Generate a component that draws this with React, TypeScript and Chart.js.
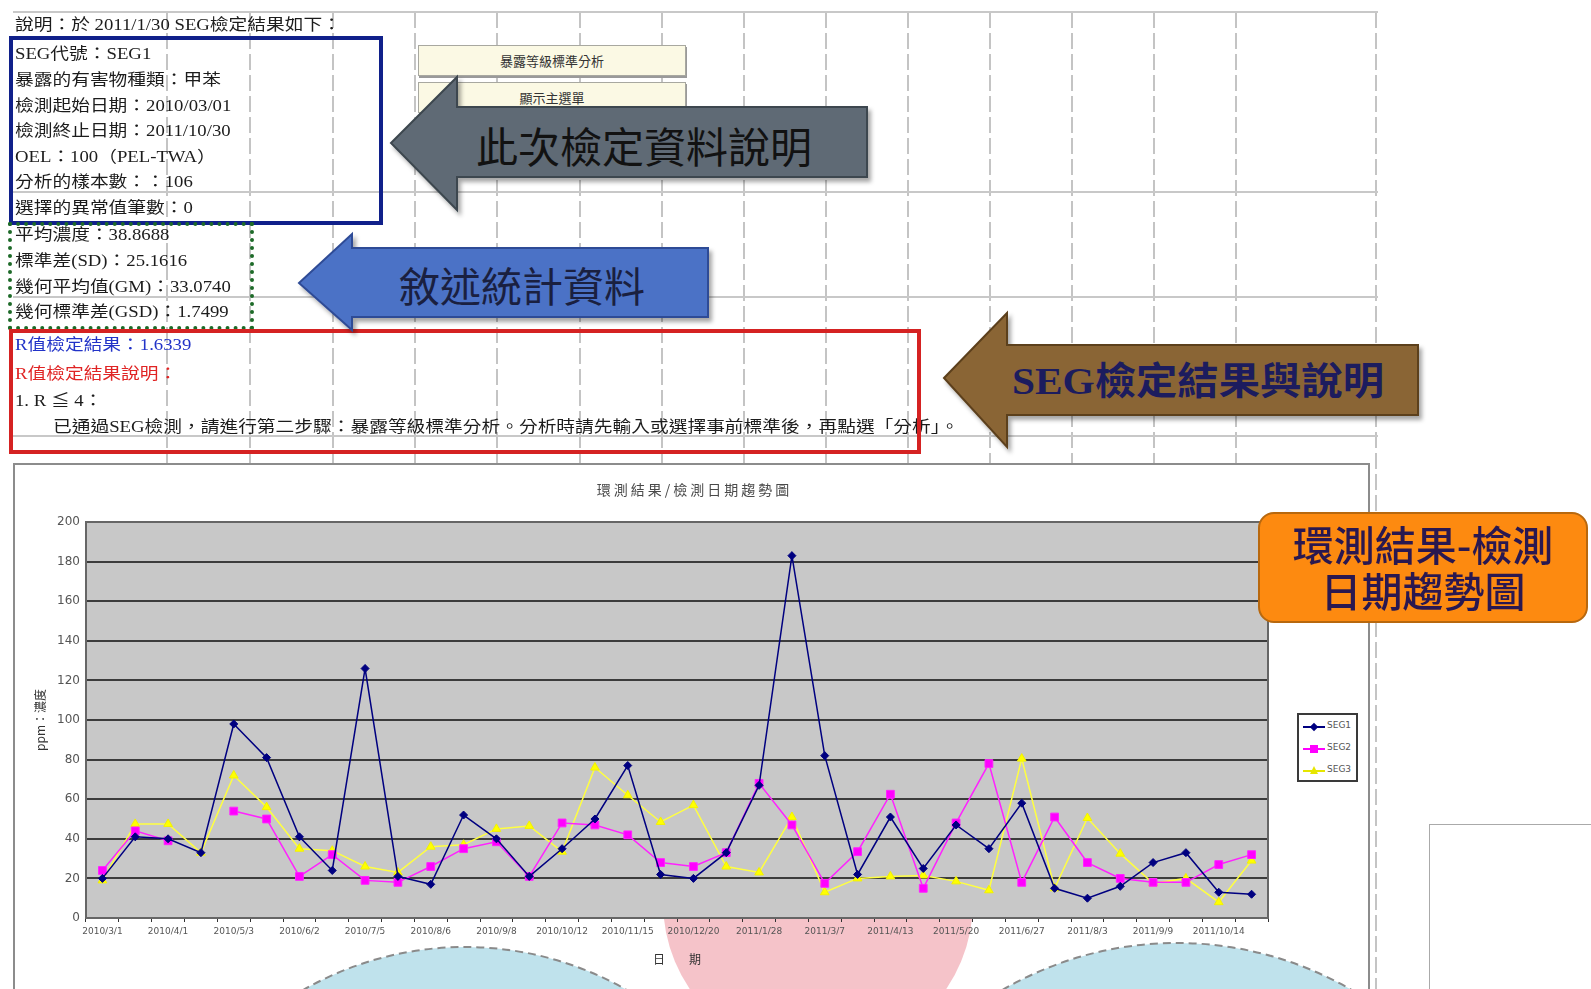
import React, { useEffect, useRef } from "react";
import { Chart, registerables } from "chart.js";

Chart.register(...registerables);

// ---------------- data ----------------
const categoryDates = [
  "2010/3/1", "2010/3/15", "2010/4/1", "2010/4/20", "2010/5/3", "2010/5/20",
  "2010/6/2", "2010/6/21", "2010/7/5", "2010/7/22", "2010/8/6", "2010/8/23",
  "2010/9/8", "2010/9/27", "2010/10/12", "2010/10/29", "2010/11/15", "2010/12/1",
  "2010/12/20", "2011/1/10", "2011/1/28", "2011/2/18", "2011/3/7", "2011/3/25",
  "2011/4/13", "2011/5/2", "2011/5/20", "2011/6/8", "2011/6/27", "2011/7/15",
  "2011/8/3", "2011/8/22", "2011/9/9", "2011/9/28", "2011/10/14", "2011/10/30",
];

const seriesNames = ["SEG1", "SEG2", "SEG3"];

const seg1Values = [
  20, 41, 40, 33, 98, 81, 41, 24, 126, 21, 17, 52,
  40, 21, 35, 50, 77, 22, 20, 33, 67, 183, 82, 22,
  51, 25, 47, 35, 58, 15, 10, 16, 28, 33, 13, 12,
];

const seg2Values = [
  24, 44, 39, null, 54, 50, 21, 32, 19, 18, 26, 35,
  38.5, 21, 48, 47, 42, 28, 26, 33, 68, 47, 17.5, 33.5,
  62.5, 15, 48, 78, 18, 51, 28, 20, 18, 18, 27, 32,
];

const seg3Values = [
  19, 47.5, 47.5, 33, 72, 56, 35, 34, 26, 23, 36, 37,
  45, 46.5, 33.5, 76, 62, 48.5, 57, 26, 23, 51, 13, 20,
  21, 21.5, 18.5, 14, 80.5, 15, 50.5, 32.5, 17.5, 20, 8, 29,
];

const yMin = 0;
const yMax = 200;
const yStep = 20;

const chartTitle = "環測結果/檢測日期趨勢圖";
const xAxisTitle = "日　　期";
const yAxisTitle = "ppm：濃度";

const sheetLines = [
  "說明：於 2011/1/30 SEG檢定結果如下：",
  "SEG代號：SEG1",
  "暴露的有害物種類：甲苯",
  "檢測起始日期：2010/03/01",
  "檢測終止日期：2011/10/30",
  "OEL：100（PEL-TWA）",
  "分析的樣本數：：106",
  "選擇的異常值筆數：0",
  "平均濃度：38.8688",
  "標準差(SD)：25.1616",
  "幾何平均值(GM)：33.0740",
  "幾何標準差(GSD)：1.7499",
  "R值檢定結果：1.6339",
  "R值檢定結果說明：",
  "1. R ≦ 4：",
  "已通過SEG檢測，請進行第二步驟：暴露等級標準分析。分析時請先輸入或選擇事前標準後，再點選「分析」。",
];

const buttonLabels = ["暴露等級標準分析", "顯示主選單"];
const arrowLabels = ["此次檢定資料說明", "敘述統計資料", "SEG檢定結果與說明"];
const calloutLines = ["環測結果-檢測", "日期趨勢圖"];

// ---------------- layout ----------------
const rowY = [25, 54, 80, 106, 131, 157, 182, 208, 235, 261, 287, 312, 345, 374, 401, 427];
const rowColor = (i: number) => (i === 12 ? "#2233c8" : i === 13 ? "#e02424" : "#1c1c1c");
const rowX = (i: number) => (i === 15 ? 53 : 15);
const sheetCols = [167, 250, 333, 415, 497, 580, 662, 744, 826, 908, 990, 1072, 1154, 1236];

const CJK = '"Noto Sans CJK TC", "Noto Sans CJK SC", sans-serif';
const SERIF_CJK = '"Liberation Serif", "Noto Sans CJK TC", serif';

const plotBg = {
  id: "plotBg",
  beforeDraw(chart: any) {
    const { ctx, chartArea } = chart;
    ctx.save();
    ctx.fillStyle = "#c8c8c8";
    ctx.fillRect(chartArea.left, chartArea.top, chartArea.width, chartArea.height);
    ctx.restore();
  },
};

const plotFrame = {
  id: "plotFrame",
  afterDraw(chart: any) {
    const { ctx, chartArea } = chart;
    ctx.save();
    ctx.strokeStyle = "#666";
    ctx.lineWidth = 2;
    ctx.strokeRect(chartArea.left, chartArea.top, chartArea.width, chartArea.height);
    ctx.restore();
  },
};

// chart title centred on the whole chart object (not on the padded plot)
const titlePlugin = {
  id: "centredTitle",
  afterDraw(chart: any) {
    const { ctx, width } = chart;
    ctx.save();
    ctx.font = "14px " + CJK;
    (ctx as any).letterSpacing = "3px";
    ctx.fillStyle = "#4a4a4a";
    ctx.textAlign = "center";
    ctx.textBaseline = "middle";
    ctx.fillText(chartTitle, width / 2 + 2, 25);
    ctx.restore();
  },
};

function Legend() {
  const rows = [
    { c: "#000080", shape: "diamond" },
    { c: "#ff00ff", shape: "square" },
    { c: "#e6e600", shape: "triangle" },
  ];
  return (
    <div
      style={{
        position: "absolute", left: 1297, top: 713, width: 57, height: 65,
        border: "2px solid #3a3a3a", background: "#fff",
      }}
    >
      {rows.map((r, i) => (
        <div key={i} style={{ position: "absolute", left: 4, top: 6 + i * 22, width: 54, height: 12 }}>
          <div style={{ position: "absolute", left: 0, top: 5, width: 22, height: 2, background: r.c }} />
          {r.shape === "diamond" && (
            <div style={{ position: "absolute", left: 8, top: 3, width: 6, height: 6, background: r.c, transform: "rotate(45deg)" }} />
          )}
          {r.shape === "square" && (
            <div style={{ position: "absolute", left: 7, top: 2, width: 8, height: 8, background: r.c }} />
          )}
          {r.shape === "triangle" && (
            <div style={{ position: "absolute", left: 7, top: 1, width: 0, height: 0, borderLeft: "4px solid transparent", borderRight: "4px solid transparent", borderBottom: "8px solid " + r.c }} />
          )}
          <span style={{ position: "absolute", left: 24, top: -1, fontSize: 9, fontFamily: "DejaVu Sans", color: "#555" }}>
            {seriesNames[i]}
          </span>
        </div>
      ))}
    </div>
  );
}

export default function App() {
  const canvasRef = useRef<HTMLCanvasElement | null>(null);

  useEffect(() => {
    if (!canvasRef.current) return;
    const chart = new Chart(canvasRef.current, {
      type: "line",
      data: {
        labels: categoryDates,
        datasets: [
          {
            label: seriesNames[0], data: seg1Values as any,
            borderColor: "#000080", backgroundColor: "#000080",
            pointStyle: "rectRot", pointRadius: 4, pointBorderWidth: 1, borderWidth: 1.5, tension: 0,
          },
          {
            label: seriesNames[1], data: seg2Values as any,
            borderColor: "#ff22ff", backgroundColor: "#ff00ff",
            pointStyle: "rect", pointRadius: 5.5, pointBorderWidth: 1, borderWidth: 1.5, tension: 0, spanGaps: false,
          },
          {
            label: seriesNames[2], data: seg3Values as any,
            borderColor: "#ffff40", backgroundColor: "#ffff00", pointBorderColor: "#f2f200",
            pointStyle: "triangle", pointRadius: 5, pointBorderWidth: 1, borderWidth: 1.5, tension: 0,
          },
        ],
      },
      options: {
        responsive: false,
        animation: false,
        devicePixelRatio: 1,
        layout: { padding: { top: 57, right: 102, left: 0, bottom: 0 } },
        plugins: {
          legend: { display: false },
          tooltip: { enabled: false },
          title: { display: false },
        },
        scales: {
          x: {
            type: "category",
            offset: true,
            grid: { display: true, drawOnChartArea: false, drawTicks: true, tickLength: 4, color: "#333", offset: true },
            border: { display: true, color: "#555", width: 2 },
            ticks: {
              autoSkip: false, maxRotation: 0, minRotation: 0, padding: 4,
              color: "#555", font: { size: 9, family: "DejaVu Sans" },
              callback: (_v: any, i: number) => (i % 2 === 0 ? categoryDates[i] : ""),
            },
            title: {
              display: true, text: xAxisTitle, color: "#333",
              font: { size: 12, family: CJK }, padding: { top: 0, bottom: 22 },
            },
            afterFit: (s: any) => { s.height = 71; },
          },
          y: {
            min: yMin, max: yMax,
            ticks: { stepSize: yStep, padding: 6, color: "#555", font: { size: 12, family: "DejaVu Sans" } },
            grid: { color: "#3c3c3c", lineWidth: 2, drawTicks: false },
            border: { display: true, color: "#555", width: 2 },
            title: {
              display: true, text: yAxisTitle, color: "#333",
              font: { size: 12, family: CJK }, padding: { top: 18, bottom: 0 },
            },
            afterFit: (s: any) => { s.width = 71; },
          },
        },
      } as any,
      plugins: [plotBg, plotFrame, titlePlugin],
    });
    return () => chart.destroy();
  }, []);

  return (
    <div style={{ position: "absolute", left: 0, top: 0, width: 1591, height: 989, overflow: "hidden", background: "#fff" }}>
      {/* spreadsheet grid */}
      <svg width={1591} height={989} style={{ position: "absolute", left: 0, top: 0 }}>
        {sheetCols.map((x) => (
          <line key={x} x1={x} y1={12} x2={x} y2={463} stroke="#c4c4c4" strokeWidth={2} strokeDasharray="16 5" />
        ))}
        <line x1={1376} y1={12} x2={1376} y2={989} stroke="#c4c4c4" strokeWidth={2} strokeDasharray="16 5" />
        {[12, 192, 297, 436].map((y) => (
          <line key={y} x1={13} y1={y} x2={1378} y2={y} stroke="#c8c8c8" strokeWidth={2} />
        ))}
      </svg>

      {/* sheet text */}
      {sheetLines.map((t, i) => (
        <div
          key={i}
          style={{
            position: "absolute", left: rowX(i), top: rowY[i] - 11, height: 22, lineHeight: "22px",
            whiteSpace: "nowrap", fontSize: 16, fontFamily: SERIF_CJK, color: rowColor(i),
            transform: "scaleX(1.17)", transformOrigin: "left center",
          }}
        >
          {t}
        </div>
      ))}

      {/* annotation rectangles */}
      <div style={{ position: "absolute", left: 9, top: 36, width: 366, height: 181, border: "4px solid #10208a" }} />
      <div style={{ position: "absolute", left: 8, top: 222, width: 238, height: 100, border: "4px dotted #1d6a28" }} />
      <div style={{ position: "absolute", left: 9, top: 329, width: 904, height: 117, border: "4px solid #d52222" }} />

      {/* buttons */}
      {buttonLabels.map((b, i) => (
        <div
          key={b}
          style={{
            position: "absolute", left: 418, top: 45 + i * 37, width: 266, height: 29,
            background: "#fbf9e4", border: "1px solid #a8a8a0", boxShadow: "1px 2px 0 #9a9a9a",
            textAlign: "center", lineHeight: "29px", fontSize: 13, fontFamily: CJK, color: "#333",
          }}
        >
          {b}
        </div>
      ))}

      {/* arrows */}
      <svg width={1591} height={989} style={{ position: "absolute", left: 0, top: 0 }}>
        <defs>
          <filter id="sh" x="-10%" y="-10%" width="130%" height="140%">
            <feDropShadow dx="3" dy="4" stdDeviation="2" floodColor="#000" floodOpacity="0.35" />
          </filter>
        </defs>
        <polygon
          points="391,143 457,77 457,107 867,107 867,177 457,177 457,210"
          fill="#5f6b74" stroke="#3d474f" strokeWidth={2} filter="url(#sh)"
        />
        <text x={644} y={144} textAnchor="middle" dominantBaseline="central" fontFamily={CJK} fontSize={42} fill="#121212">
          {arrowLabels[0]}
        </text>
        <polygon
          points="299,283 352,234 352,248 708,248 708,317 352,317 352,330"
          fill="#4c72c6" stroke="#2f4c96" strokeWidth={2} filter="url(#sh)"
        />
        <text x={522} y={284} textAnchor="middle" dominantBaseline="central" fontFamily={CJK} fontSize={41} fill="#1a2040">
          {arrowLabels[1]}
        </text>
        <polygon
          points="944,378 1007,313 1007,345 1418,345 1418,415 1007,415 1007,447"
          fill="#8a6535" stroke="#5c3f1c" strokeWidth={2} filter="url(#sh)"
        />
        <text
          x={1198} y={381} textAnchor="middle" dominantBaseline="central" fontFamily={SERIF_CJK}
          fontSize={38} fontWeight="bold" fill="#1c1c5e" textLength={372} lengthAdjust="spacingAndGlyphs"
        >
          {arrowLabels[2]}
        </text>
      </svg>

      {/* chart box */}
      <div style={{ position: "absolute", left: 13, top: 463, width: 1353, height: 560, border: "2px solid #8c8c8c", background: "#fff", overflow: "hidden" }}>
        <svg width={1353} height={560} style={{ position: "absolute", left: 0, top: 0 }}>
          <circle cx={465 - 15} cy={1273 - 465} r={326} fill="#bfe2ec" stroke="#8a8a8a" strokeWidth={2} strokeDasharray="8 5" />
          <circle cx={818 - 15} cy={902 - 465} r={155} fill="#f5c3c9" />
          <circle cx={1177 - 15} cy={1291 - 465} r={348} fill="#bfe2ec" stroke="#8a8a8a" strokeWidth={2} strokeDasharray="8 5" />
        </svg>
      </div>
      <canvas
        ref={canvasRef}
        width={1355}
        height={524}
        style={{ position: "absolute", left: 15, top: 465, width: 1355, height: 524 }}
      />
      <Legend />

      {/* bottom-right box */}
      <div style={{ position: "absolute", left: 1429, top: 824, width: 170, height: 180, border: "1px solid #aaa", background: "#fff" }} />

      {/* callout */}
      <div
        style={{
          position: "absolute", left: 1258, top: 512, width: 326, height: 101,
          background: "#fd8a10", border: "2px solid #b8680e", borderRadius: 16,
          textAlign: "center", fontFamily: CJK, fontSize: 41, fontWeight: 500, lineHeight: "46px", color: "#2a1850",
          paddingTop: 6, boxSizing: "content-box", whiteSpace: "nowrap",
        }}
      >
        <div>{calloutLines[0]}</div>
        <div>{calloutLines[1]}</div>
      </div>
    </div>
  );
}
